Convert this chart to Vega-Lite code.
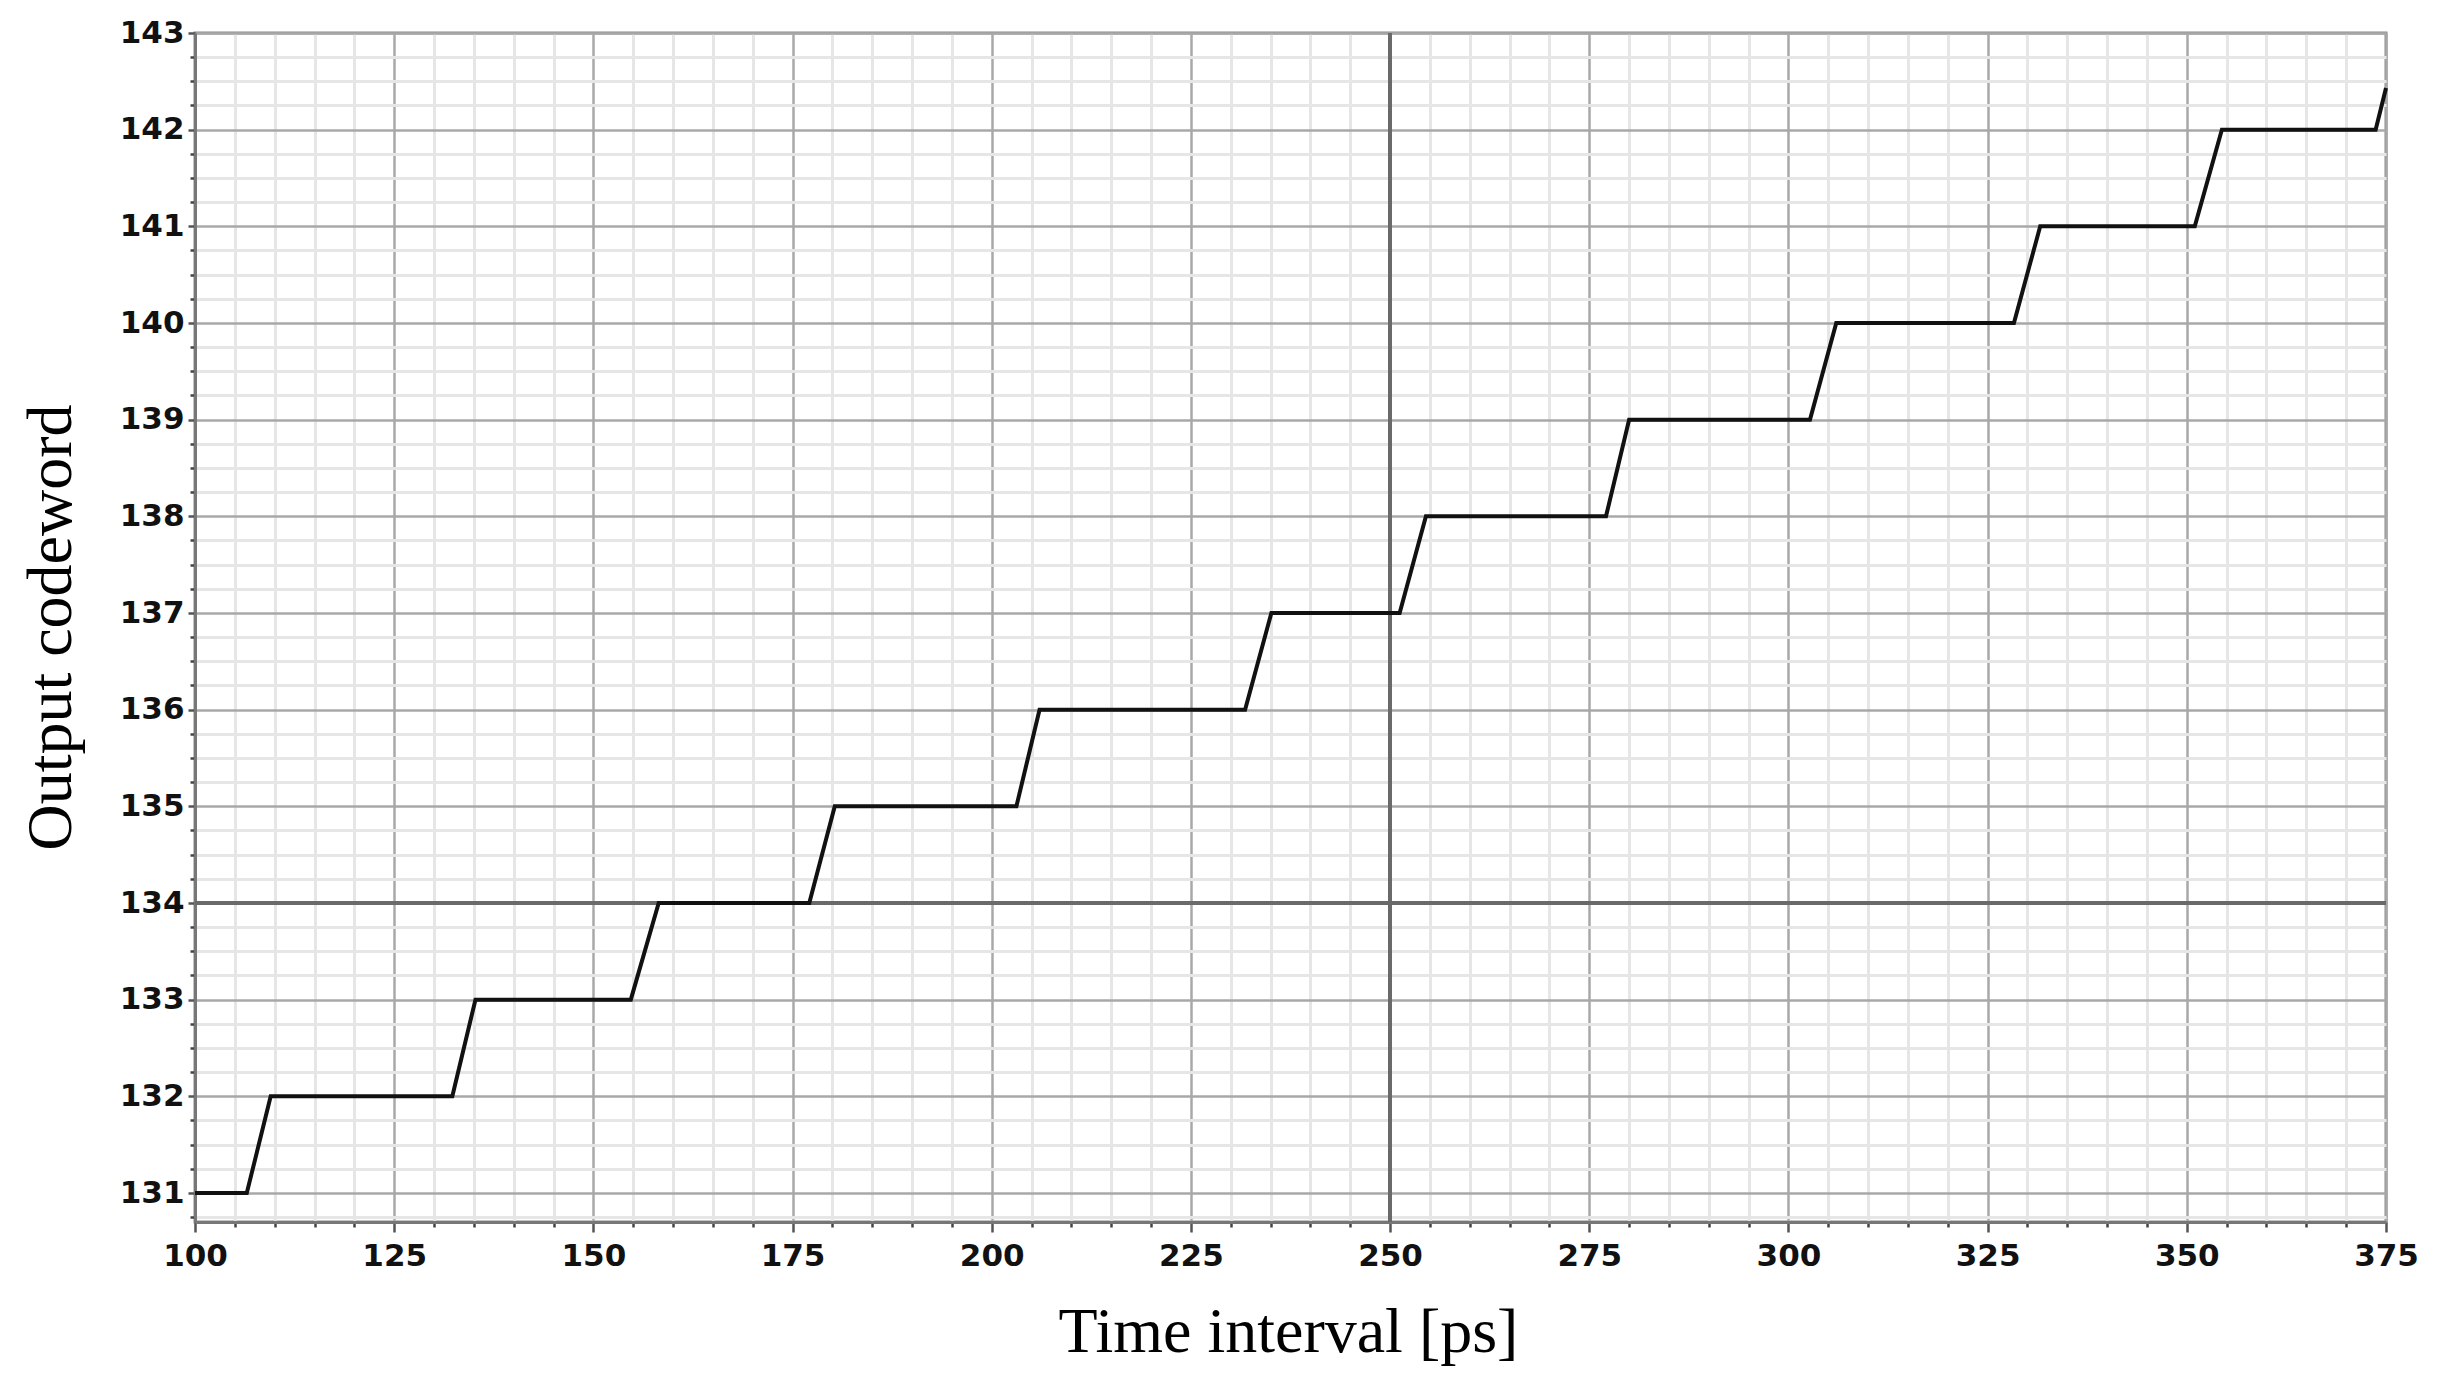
{
  "$schema": "https://vega.github.io/schema/vega-lite/v6.json",
  "autosize": {"type": "none"},
  "padding": {"left": 195, "top": 33, "right": 55, "bottom": 168},
  "width": 2191,
  "height": 1189,
  "background": "white",
  "config": {
    "view": {"stroke": "#8a8a8a", "strokeWidth": 3},
    "axis": {"labelColor": "#111111", "titleColor": "#000000"}
  },
  "data": {
    "values": [
      {"t": 100, "code": 131},
      {"t": 106.5, "code": 131},
      {"t": 109.5, "code": 132},
      {"t": 132.3, "code": 132},
      {"t": 135.2, "code": 133},
      {"t": 154.7, "code": 133},
      {"t": 158.2, "code": 134},
      {"t": 177.1, "code": 134},
      {"t": 180.3, "code": 135},
      {"t": 203.1, "code": 135},
      {"t": 206.0, "code": 136},
      {"t": 231.8, "code": 136},
      {"t": 235.1, "code": 137},
      {"t": 251.2, "code": 137},
      {"t": 254.5, "code": 138},
      {"t": 277.1, "code": 138},
      {"t": 280.0, "code": 139},
      {"t": 302.7, "code": 139},
      {"t": 306.0, "code": 140},
      {"t": 328.3, "code": 140},
      {"t": 331.6, "code": 141},
      {"t": 351.0, "code": 141},
      {"t": 354.4, "code": 142},
      {"t": 373.7, "code": 142},
      {"t": 375, "code": 142.43}
    ]
  },
  "resolve": {"axis": {"x": "independent", "y": "independent"}},
  "layer": [
    {
      "mark": {"type": "line", "strokeOpacity": 0},
      "encoding": {
        "x": {
          "field": "t", "type": "quantitative",
          "scale": {"domain": [100, 375], "nice": false, "zero": false},
          "axis": {
            "orient": "bottom",
            "values": [105,110,115,120,130,135,140,145,155,160,165,170,180,185,190,195,205,210,215,220,230,235,240,245,255,260,265,270,280,285,290,295,305,310,315,320,330,335,340,345,355,360,365,370],
            "grid": true, "gridColor": "#e6e6e6", "gridWidth": 3,
            "ticks": true, "tickSize": 5, "tickColor": "#444444", "tickWidth": 2.5,
            "labels": false, "domain": false, "title": null
          }
        },
        "y": {
          "field": "code", "type": "quantitative",
          "scale": {"domain": [130.7, 143], "nice": false, "zero": false},
          "axis": {
            "orient": "left",
            "values": [130.75,131.25,131.5,131.75,132.25,132.5,132.75,133.25,133.5,133.75,134.25,134.5,134.75,135.25,135.5,135.75,136.25,136.5,136.75,137.25,137.5,137.75,138.25,138.5,138.75,139.25,139.5,139.75,140.25,140.5,140.75,141.25,141.5,141.75,142.25,142.5,142.75],
            "grid": true, "gridColor": "#e6e6e6", "gridWidth": 3,
            "ticks": true, "tickSize": 5, "tickColor": "#444444", "tickWidth": 2.5,
            "labels": false, "domain": false, "title": null
          }
        }
      }
    },
    {
      "mark": {"type": "rule", "color": "#6a6a6a", "strokeWidth": 3.5},
      "encoding": {"x": {"datum": 250, "type": "quantitative", "axis": null}}
    },
    {
      "mark": {"type": "rule", "color": "#6a6a6a", "strokeWidth": 3.5},
      "encoding": {"y": {"datum": 134, "type": "quantitative", "axis": null}}
    },
    {
      "mark": {"type": "line", "color": "#111111", "strokeWidth": 4, "strokeJoin": "miter"},
      "encoding": {
        "x": {
          "field": "t", "type": "quantitative",
          "scale": {"domain": [100, 375], "nice": false, "zero": false},
          "axis": {
            "orient": "bottom",
            "values": [100,125,150,175,200,225,250,275,300,325,350,375],
            "grid": true, "gridColor": "#a8a8a8", "gridWidth": 2.5,
            "ticks": true, "tickSize": 10, "tickColor": "#555555", "tickWidth": 2.5,
            "domain": true, "domainColor": "#777777", "domainWidth": 3,
            "labelFont": "DejaVu Sans", "labelFontSize": 31, "labelFontWeight": "bold",
            "labelPadding": 9, "labelFlush": false, "labelOverlap": false,
            "title": "Time interval [ps]",
            "titleFont": "Liberation Serif", "titleFontSize": 64, "titleFontWeight": "normal",
            "titleBaseline": "alphabetic", "titleY": 129, "titleX": 1093, "titleAnchor": "middle", "titleAlign": "center"
          }
        },
        "y": {
          "field": "code", "type": "quantitative",
          "scale": {"domain": [130.7, 143], "nice": false, "zero": false},
          "axis": {
            "orient": "left",
            "values": [131,132,133,134,135,136,137,138,139,140,141,142,143],
            "grid": true, "gridColor": "#a8a8a8", "gridWidth": 2.5,
            "ticks": true, "tickSize": 7, "tickColor": "#555555", "tickWidth": 2.5,
            "domain": true, "domainColor": "#777777", "domainWidth": 3,
            "labelFont": "DejaVu Sans", "labelFontSize": 31, "labelFontWeight": "bold",
            "labelPadding": 4, "labelFlush": false, "labelOverlap": false,
            "format": "d",
            "title": "Output codeword",
            "titleFont": "Liberation Serif", "titleFontSize": 64, "titleFontWeight": "normal",
            "titleBaseline": "alphabetic", "titleX": -125, "titleY": 594, "titleAngle": -90, "titleAnchor": "middle", "titleAlign": "center"
          }
        }
      }
    }
  ]
}
